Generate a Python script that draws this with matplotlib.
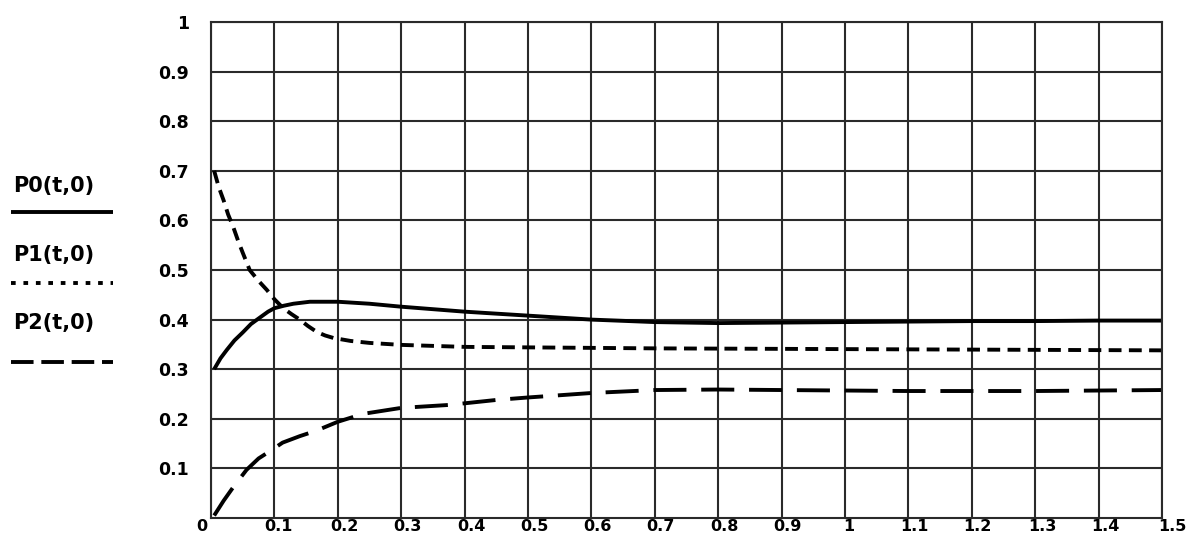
import matplotlib
matplotlib.use("Agg")
import matplotlib.pyplot as plt
from matplotlib.lines import Line2D
from matplotlib.transforms import ScaledTranslation

plt.rcParams["font.family"] = ["DejaVu Sans"]
plt.rcParams["font.weight"] = "bold"

# ── data ─────────────────────────────────────────────
t0 = [0.005, 0.015, 0.025, 0.037, 0.05, 0.063, 0.077, 0.09, 0.1, 0.115,
      0.13, 0.156, 0.2, 0.25, 0.3, 0.4, 0.5, 0.6, 0.7, 0.8, 0.9, 1.0, 1.1,
      1.2, 1.3, 1.4, 1.5]
p0 = [0.30, 0.322, 0.339, 0.358, 0.374, 0.391, 0.404, 0.416, 0.423, 0.428,
      0.432, 0.436, 0.436, 0.432, 0.426, 0.416, 0.408, 0.400, 0.395, 0.393,
      0.394, 0.395, 0.396, 0.397, 0.397, 0.398, 0.398]

t1 = [0.005, 0.012, 0.02, 0.027, 0.035, 0.043, 0.05, 0.061, 0.075, 0.088,
      0.1, 0.114, 0.127, 0.14, 0.153, 0.167, 0.18, 0.193, 0.22, 0.25, 0.3,
      0.4, 0.5, 0.7, 0.9, 1.1, 1.3, 1.5]
p1 = [0.70, 0.668, 0.64, 0.612, 0.587, 0.558, 0.535, 0.50, 0.478, 0.46,
      0.441, 0.423, 0.411, 0.40, 0.387, 0.375, 0.368, 0.363, 0.357, 0.353,
      0.349, 0.345, 0.344, 0.342, 0.341, 0.340, 0.339, 0.338]

t2 = [0.005, 0.02, 0.035, 0.056, 0.075, 0.092, 0.113, 0.14, 0.166, 0.2,
      0.24, 0.3, 0.376, 0.45, 0.5, 0.6, 0.7, 0.8, 0.9, 1.0, 1.1, 1.2, 1.3,
      1.4, 1.5]
p2 = [0.005, 0.035, 0.062, 0.097, 0.12, 0.134, 0.152, 0.165, 0.176, 0.194,
      0.21, 0.222, 0.228, 0.238, 0.243, 0.252, 0.258, 0.259, 0.258, 0.257,
      0.256, 0.256, 0.256, 0.257, 0.258]

x_ticks = [0, 0.1, 0.2, 0.3, 0.4, 0.5, 0.6, 0.7, 0.8, 0.9, 1.0, 1.1, 1.2,
           1.3, 1.4, 1.5]
x_labels = ["0", "0.1", "0.2", "0.3", "0.4", "0.5", "0.6", "0.7", "0.8",
            "0.9", "1", "1.1", "1.2", "1.3", "1.4", "1.5"]
y_ticks = [0.1, 0.2, 0.3, 0.4, 0.5, 0.6, 0.7, 0.8, 0.9, 1.0]
y_labels = ["0.1", "0.2", "0.3", "0.4", "0.5", "0.6", "0.7", "0.8", "0.9", "1"]

series_names = ["P0(t,0)", "P1(t,0)", "P2(t,0)"]

# ── figure ───────────────────────────────────────────
W, H = 1187, 537
fig = plt.figure(figsize=(W / 100, H / 100), dpi=100, facecolor="white")
ax = fig.add_axes([211 / W, 1 - 518 / H, (1162 - 211) / W, (518 - 22) / H])

LW = 2.8
ax.plot(t0, p0, color="black", lw=LW, solid_capstyle="butt")
ax.plot(t1, p1, color="black", lw=LW, dashes=(3.3, 1.9), dash_capstyle="butt")
ax.plot(t2, p2, color="black", lw=LW, dashes=(8.5, 3.8), dash_capstyle="butt")

ax.set_xlim(0, 1.5)
ax.set_ylim(0, 1)
ax.set_xticks(x_ticks)
ax.set_xticklabels(x_labels, fontsize=11.5, fontweight="bold")
ax.set_yticks(y_ticks)
ax.set_yticklabels(y_labels, fontsize=12.5, fontweight="bold")
ax.tick_params(length=0)
ax.tick_params(axis="y", pad=16)
ax.tick_params(axis="x", pad=0.5)
ax.grid(True, color="#2a2a2a", lw=1.5)
for s in ax.spines.values():
    s.set_color("#2a2a2a")
    s.set_linewidth(1.5)

# bottom labels sit a little right of their gridlines
dx_px = [-9, 4, 7, 6, 7, 6, 6, 6, 6, 6, 4, 6, 6, 7, 7, 10]
for lab, dx in zip(ax.get_xticklabels(), dx_px):
    lab.set_transform(lab.get_transform() +
                      ScaledTranslation(dx / 100, 0, fig.dpi_scale_trans))

# ── legend on the left ───────────────────────────────
legend_rows = [
    (186, 212, None),
    (255, 283, (1.2, 2.0)),
    (323, 362, (5.8, 2.0)),
]
for name, (ty, ly, dash) in zip(series_names, legend_rows):
    fig.text(13 / W, 1 - ty / H, name, fontsize=15, fontweight="bold",
             ha="left", va="center")
    line = Line2D([11 / W, 113 / W], [1 - ly / H, 1 - ly / H],
                  transform=fig.transFigure, color="black", lw=LW,
                  solid_capstyle="butt", dash_capstyle="butt")
    if dash is not None:
        line.set_dashes(dash)
    fig.add_artist(line)

fig.savefig("out.png", dpi=100, facecolor="white")
